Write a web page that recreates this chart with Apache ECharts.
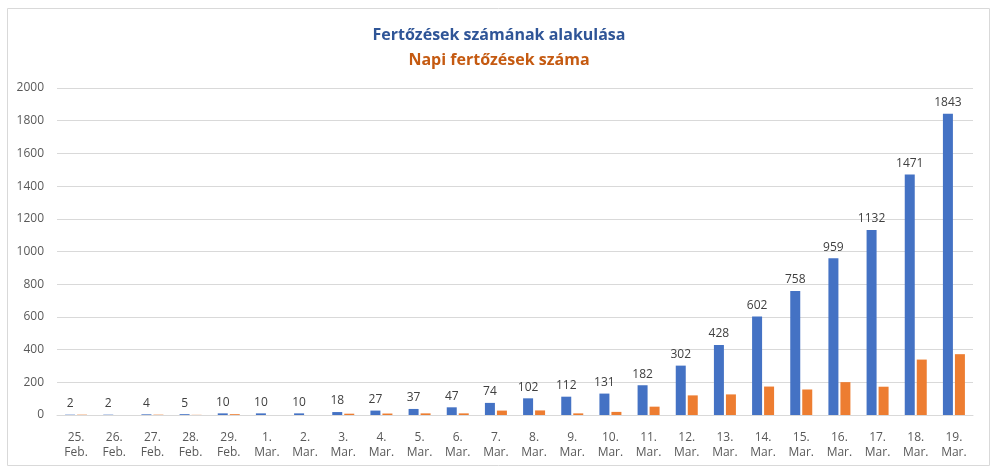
<!DOCTYPE html>
<html>
<head>
<meta charset="utf-8">
<script src="https://cdn.jsdelivr.net/npm/echarts@6/dist/echarts.min.js"></script>
<style>
html, body { margin: 0; padding: 0; background: #fff; }
#chart { width: 998px; height: 474px; }
</style>
</head>
<body>
<div id="chart"></div>
<script>
var days = ['25.\nFeb.', '26.\nFeb.', '27.\nFeb.', '28.\nFeb.', '29.\nFeb.', '1.\nMar.', '2.\nMar.', '3.\nMar.',
    '4.\nMar.', '5.\nMar.', '6.\nMar.', '7.\nMar.', '8.\nMar.', '9.\nMar.', '10.\nMar.', '11.\nMar.',
    '12.\nMar.', '13.\nMar.', '14.\nMar.', '15.\nMar.', '16.\nMar.', '17.\nMar.', '18.\nMar.', '19.\nMar.'];
var total = [2, 2, 4, 5, 10, 10, 10, 18, 27, 37, 47, 74, 102, 112, 131, 182, 302, 428, 602, 758, 959, 1132, 1471, 1843];
var daily = [2, 0, 2, 1, 5, 0, 0, 8, 9, 10, 10, 27, 28, 10, 19, 51, 120, 126, 174, 156, 201, 173, 339, 372];
var yTicks = [0, 200, 400, 600, 800, 1000, 1200, 1400, 1600, 1800, 2000];

var myChart = echarts.init(document.getElementById('chart'));
var font = 'Open Sans';

var option = {
    animation: false,
    textStyle: { fontFamily: font },
    title: [{
        text: 'Fertőzések számának alakulása',
        left: 'center',
        top: 22,
        textStyle: { color: '#2F5597', fontSize: 16, fontWeight: 'bold', fontFamily: font }
    }, {
        text: 'Napi fertőzések száma',
        left: 'center',
        top: 47,
        textStyle: { color: '#C55A11', fontSize: 16, fontWeight: 'bold', fontFamily: font }
    }],
    graphic: [{
        type: 'rect',
        shape: { x: 7.5, y: 8.5, width: 982, height: 457 },
        style: { fill: 'none', stroke: '#d9d9d9', lineWidth: 1 },
        silent: true
    }],
    grid: { left: 57, right: 25, top: 88, bottom: 59 },
    xAxis: {
        type: 'category',
        data: days,
        axisLine: { lineStyle: { color: '#d9d9d9' } },
        axisTick: { show: false },
        axisLabel: {
            color: '#595959',
            fontSize: 12,
            lineHeight: 15,
            margin: 15,
            interval: 0
        }
    },
    yAxis: {
        type: 'value',
        min: yTicks[0],
        max: yTicks[yTicks.length - 1],
        interval: 200,
        axisLine: { show: false },
        axisTick: { show: false },
        splitLine: { lineStyle: { color: '#d9d9d9' } },
        axisLabel: {
            color: '#595959',
            fontSize: 12,
            margin: 13,
            formatter: function (v) { return String(v); }
        }
    },
    series: [{
        name: 'Fertőzések száma',
        type: 'bar',
        data: total,
        barWidth: 10,
        barGap: '20%',
        itemStyle: { color: '#4472C4' },
        label: {
            show: true,
            position: 'top',
            distance: 5,
            color: '#404040',
            fontSize: 12
        }
    }, {
        name: 'Napi fertőzések',
        type: 'bar',
        data: daily,
        barWidth: 10,
        barGap: '20%',
        itemStyle: { color: '#ED7D31' }
    }]
};

myChart.setOption(option);
</script>
</body>
</html>
